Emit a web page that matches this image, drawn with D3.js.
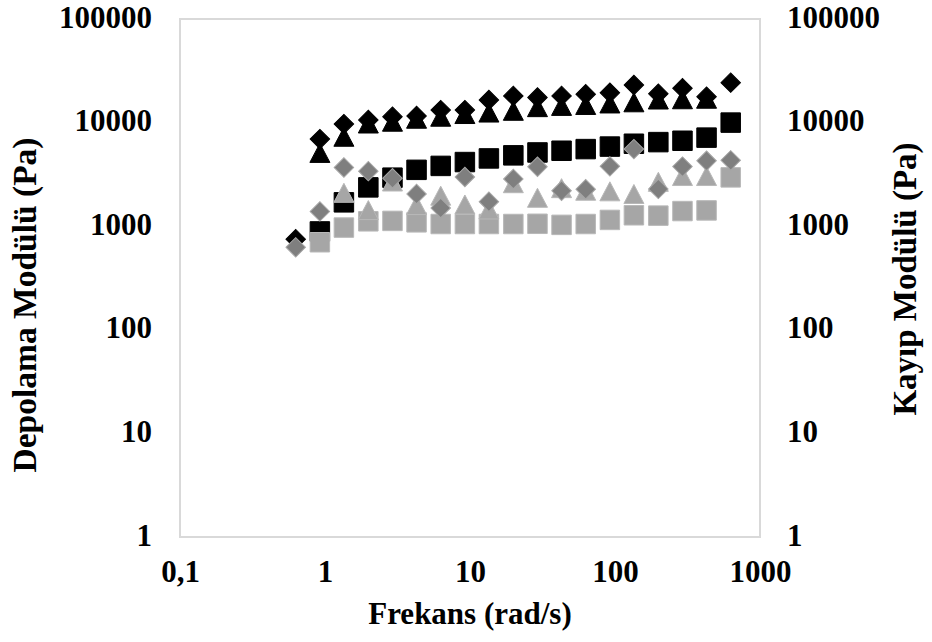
<!DOCTYPE html>
<html>
<head>
<meta charset="utf-8">
<title>Frekans taraması</title>
<script src="https://cdn.jsdelivr.net/npm/d3@7"></script>
<style>
  body { margin: 0; background: #fff; }
  text { font-family: "Liberation Serif", "Times New Roman", serif; font-weight: bold; fill: #000; }
</style>
</head>
<body>
<div id="chart"></div>
<script>
// frequency sweep, rad/s
const freq = [0.628, 0.922, 1.35, 1.99, 2.92, 4.28, 6.28, 9.22, 13.5, 19.9,
              29.2, 42.8, 62.8, 92.2, 135, 199, 292, 428, 628];

// black series
const blackDiamond = [750, 6930, 9670, 10600, 11380, 11600, 13200, 13200, 16500, 18100,
                      17470, 18100, 18800, 19400, 23100, 19000, 21500, 17750, 24300];
const blackTriangle = [null, 5100, 7300, 9800, 10200, 10900, 11400, 12100, 12500, 13000,
                       14100, 14500, 14800, 15300, 15700, 16700, 16800, 17000, null];
const blackSquare = [null, 890, 1700, 2370, 2940, 3500, 3820, 4160, 4510, 4830,
                     5150, 5350, 5550, 5870, 6250, 6480, 6680, 7160, 10000];

// gray series
const graySquare = [null, 700, 970, 1115, 1125, 1090, 1050, 1050, 1050, 1050,
                    1055, 1030, 1050, 1150, 1275, 1265, 1400, 1420, 2960];
const grayTriangle = [null, null, 2100, 1430, 2700, 1600, 1970, 1620, 1450, 2600,
                      1880, 2330, 2200, 2170, 2045, 2680, 3050, 3050, null];
const grayDiamond = [625, 1390, 3690, 3400, 2900, 2050, 1500, 2980, 1720, 2860,
                     3750, 2200, 2270, 3780, 5550, 2290, 3760, 4290, 4320];

const xTicks = [0.1, 1, 10, 100, 1000];
const xTickLabels = ["0,1", "1", "10", "100", "1000"];
const yTicks = [1, 10, 100, 1000, 10000, 100000];

const width = 932, height = 642;
const plotL = 180, plotR = 760, plotT = 19, plotB = 537;

const svg = d3.select("#chart").append("svg")
    .attr("width", width)
    .attr("height", height);

const x = d3.scaleLog().domain([0.1, 1000]).range([plotL, plotR]);
const y = d3.scaleLog().domain([1, 100000]).range([plotB, plotT]);

// plot frame
svg.append("rect")
    .attr("x", plotL).attr("y", plotT)
    .attr("width", plotR - plotL).attr("height", plotB - plotT)
    .attr("fill", "none")
    .attr("stroke", "#d9d9d9")
    .attr("stroke-width", 2);

// axes (labels only, Excel style)
const fmtX = d => xTickLabels[xTicks.indexOf(d)];
const xAxis = svg.append("g")
    .attr("transform", `translate(0,${plotB + 23})`)
    .call(d3.axisBottom(x).tickValues(xTicks).tickFormat(fmtX).tickSize(0).tickPadding(0));
const yAxisL = svg.append("g")
    .attr("transform", `translate(${plotL - 28},0)`)
    .call(d3.axisLeft(y).tickValues(yTicks).tickFormat(d3.format("d")).tickSize(0).tickPadding(0));
const yAxisR = svg.append("g")
    .attr("transform", `translate(${plotR + 27},0)`)
    .call(d3.axisRight(y).tickValues(yTicks).tickFormat(d3.format("d")).tickSize(0).tickPadding(0));

[xAxis, yAxisL, yAxisR].forEach(g => {
  g.select(".domain").remove();
  g.selectAll("text")
    .attr("font-family", null)
    .style("font-size", "31px");
});
xAxis.selectAll("text").attr("dy", "0.71em");
yAxisL.selectAll("text").attr("dy", "0.26em");
yAxisR.selectAll("text").attr("dy", "0.26em");

// axis titles
svg.append("text")
    .attr("x", (plotL + plotR) / 2).attr("y", 624)
    .attr("text-anchor", "middle")
    .style("font-size", "31px")
    .text("Frekans (rad/s)");

svg.append("text")
    .attr("transform", "translate(36,305) rotate(-90)")
    .attr("text-anchor", "middle")
    .style("font-size", "33.5px")
    .text("Depolama Modülü (Pa)");

svg.append("text")
    .attr("transform", "translate(916,279) rotate(-90)")
    .attr("text-anchor", "middle")
    .style("font-size", "33px")
    .text("Kayıp Modülü (Pa)");

// marker shapes
const diamondPath = d3.symbol().type(d3.symbolSquare).size(190)();
const squarePath = d3.symbol().type(d3.symbolSquare).size(380)();
const trianglePath = "M0,-9.5L10,9.5L-10,9.5Z";

function drawSeries(values, shape, fill, stroke) {
  const pts = freq.map((f, i) => ({ f: f, v: values[i] })).filter(d => d.v != null);
  svg.append("g")
    .selectAll("path")
    .data(pts)
    .join("path")
      .attr("d", shape === "diamond" ? diamondPath : shape === "square" ? squarePath : trianglePath)
      .attr("transform", d => `translate(${x(d.f)},${y(d.v)})` + (shape === "diamond" ? " rotate(45)" : ""))
      .attr("fill", fill)
      .attr("stroke", stroke)
      .attr("stroke-width", 1);
}

drawSeries(blackDiamond, "diamond", "#000", "#000");
drawSeries(blackTriangle, "triangle", "#000", "#000");
drawSeries(blackSquare, "square", "#000", "#000");
drawSeries(graySquare, "square", "#a6a6a6", "#b8b8b8");
drawSeries(grayTriangle, "triangle", "#a6a6a6", "#b8b8b8");
drawSeries(grayDiamond, "diamond", "#7f7f7f", "#a6a6a6");
</script>
</body>
</html>
